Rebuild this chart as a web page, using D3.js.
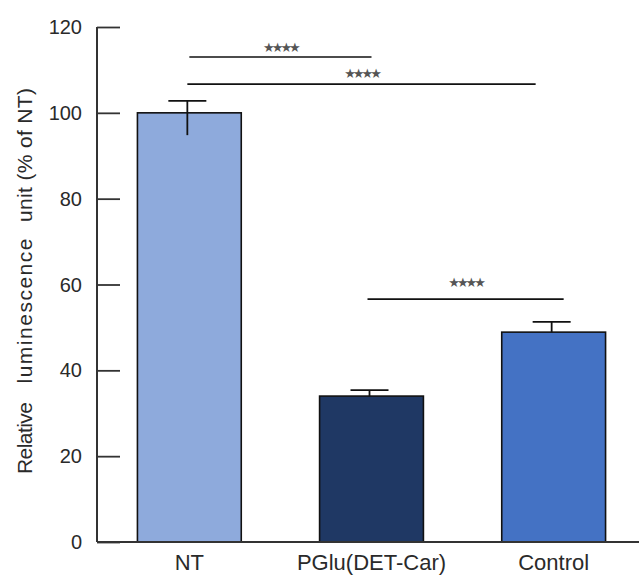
<!DOCTYPE html>
<html>
<head>
<meta charset="utf-8">
<script src="https://cdn.jsdelivr.net/npm/d3@7"></script>
<style>
  html, body { margin: 0; padding: 0; background: #fff; }
  svg { display: block; }
</style>
</head>
<body>
<svg id="chart" width="639" height="575"></svg>
<script>
// ---- data ----
const categories = ["NT", "PGlu(DET-Car)", "Control"];
const values = [100, 34, 48.9];
const errUp = [2.8, 1.4, 2.4];
const errDown = [5.2, 0, 0];
const yTicks = [0, 20, 40, 60, 80, 100, 120];
const titleWords = ["Relative", "luminescence", "unit (% of NT)"];
const brackets = [
  { from: "NT", to: "PGlu(DET-Car)", level: 113.0, label: "****" },
  { from: "NT", to: "Control", level: 106.7, label: "****" },
  { from: "PGlu(DET-Car)", to: "Control", level: 56.6, label: "****" }
];

// ---- styles ----
const colors = ["#8eaadc", "#1f3864", "#4472c4"];
const axisColor = "#333";
const textColor = "#2a2a2a";
const font = "Liberation Sans, Arial, sans-serif";

const svg = d3.select("#chart");

const y = d3.scaleLinear().domain([0, 120]).range([542, 27]);
const x = d3.scaleBand().domain(categories).range([101, 642])
  .paddingInner(0.43).paddingOuter(0.2);
const axisX = 97;

// bars
svg.append("g").selectAll("rect").data(categories).join("rect")
  .attr("x", d => x(d))
  .attr("y", (d, i) => y(values[i]))
  .attr("width", x.bandwidth())
  .attr("height", (d, i) => y(0) - y(values[i]))
  .attr("fill", (d, i) => colors[i])
  .attr("stroke", "#111")
  .attr("stroke-width", 1.6);

// error bars
const eb = svg.append("g").attr("stroke", "#111").attr("stroke-width", 1.8);
categories.forEach((c, i) => {
  const cx = x(c) + x.bandwidth() / 2 - 2;
  eb.append("line").attr("x1", cx).attr("x2", cx)
    .attr("y1", y(values[i] + errUp[i])).attr("y2", y(values[i] - errDown[i]));
  eb.append("line").attr("x1", cx - 19).attr("x2", cx + 19)
    .attr("y1", y(values[i] + errUp[i])).attr("y2", y(values[i] + errUp[i]));
});

// y axis (ticks pointing inward)
const yAxis = d3.axisRight(y).tickValues(yTicks).tickSize(23).tickFormat("");
const ga = svg.append("g").attr("transform", `translate(${axisX},0)`).call(yAxis);
ga.select(".domain").remove();
ga.selectAll(".tick line").attr("stroke", axisColor).attr("stroke-width", 1.8);
svg.append("line").attr("x1", axisX).attr("x2", axisX)
  .attr("y1", y(120)).attr("y2", y(0))
  .attr("stroke", axisColor).attr("stroke-width", 2);
// tick labels
svg.append("g").selectAll("text").data(yTicks).join("text")
  .attr("x", 82).attr("y", d => y(d) + 7)
  .attr("text-anchor", "end")
  .attr("font-family", font).attr("font-size", 20)
  .attr("fill", textColor)
  .text(d => d);

// x axis
svg.append("line").attr("x1", axisX).attr("x2", 639)
  .attr("y1", y(0)).attr("y2", y(0))
  .attr("stroke", axisColor).attr("stroke-width", 2);
svg.append("g").selectAll("text").data(categories).join("text")
  .attr("x", d => x(d) + x.bandwidth() / 2)
  .attr("y", 570)
  .attr("text-anchor", "middle")
  .attr("font-family", font).attr("font-size", 22)
  .attr("fill", textColor)
  .text(d => d);

// y title (words placed individually to mimic wide spacing)
const titleCenters = [438, 311, 155];
const titleLens = [72, 145, 134];
titleWords.forEach((w, i) => {
  svg.append("text")
    .attr("transform", `translate(32,${titleCenters[i]}) rotate(-90)`)
    .attr("text-anchor", "middle")
    .attr("font-family", font).attr("font-size", 21)
    .attr("fill", textColor)
    .attr("textLength", titleLens[i])
    .attr("lengthAdjust", "spacing")
    .text(w);
});

// significance brackets
const bShift = [[0, 0], [-2, -18], [-4, 10]];
const starGap = [5, 6, 12];
brackets.forEach((b, i) => {
  const x1 = x(b.from) + x.bandwidth() / 2 + bShift[i][0];
  const x2 = x(b.to) + x.bandwidth() / 2 + bShift[i][1];
  const yy = y(b.level);
  svg.append("line").attr("x1", x1).attr("x2", x2).attr("y1", yy).attr("y2", yy)
    .attr("stroke", "#111").attr("stroke-width", 1.6);
  svg.append("text")
    .attr("x", (x1 + x2) / 2).attr("y", yy - starGap[i])
    .attr("text-anchor", "middle")
    .attr("font-family", "DejaVu Sans, sans-serif").attr("font-size", 13)
    .attr("letter-spacing", -3)
    .attr("fill", "#555")
    .text(b.label.replace(/\*/g, "★"));
});
</script>
</body>
</html>
